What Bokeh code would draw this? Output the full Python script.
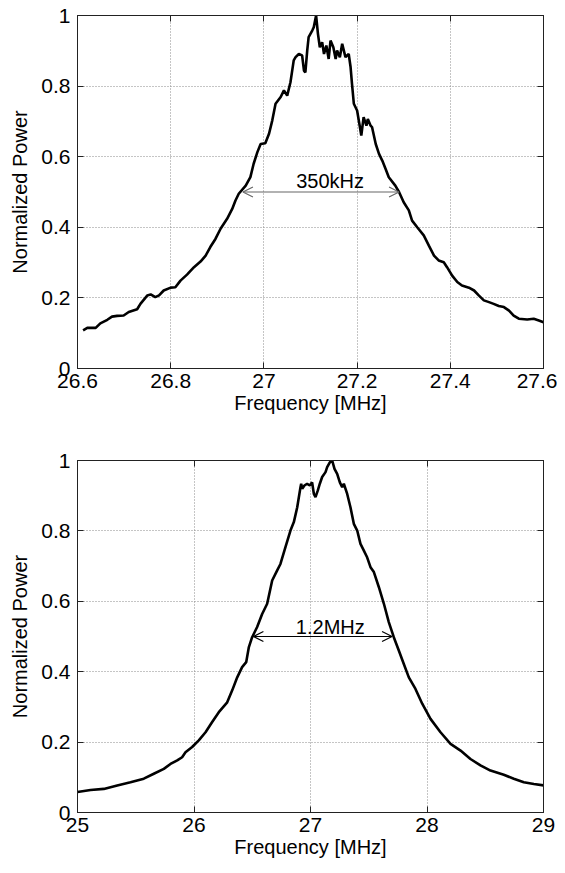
from bokeh.plotting import figure
from bokeh.layouts import column
from bokeh.models import FixedTicker, LinearAxis, Range1d, Arrow, OpenHead, Label
from bokeh.embed import file_html
from bokeh.resources import INLINE

# ---------------- data: top panel (narrow span) ----------------
freq_top = [26.612, 26.621, 26.639, 26.649, 26.664, 26.674, 26.685, 26.699, 26.710, 26.728,
            26.735, 26.750, 26.757, 26.767, 26.775, 26.785, 26.800, 26.810, 26.821, 26.835,
            26.850, 26.864, 26.875, 26.885, 26.896, 26.907, 26.921, 26.932, 26.939, 26.946,
            26.961, 26.971, 26.978, 26.986, 26.993, 27.003, 27.011, 27.018, 27.025, 27.036,
            27.043, 27.050, 27.057, 27.064, 27.068, 27.075, 27.082, 27.086, 27.089, 27.093,
            27.096, 27.104, 27.107, 27.112, 27.116, 27.120, 27.125, 27.129, 27.134, 27.139,
            27.143, 27.149, 27.154, 27.157, 27.163, 27.168, 27.175, 27.182, 27.186, 27.189,
            27.193, 27.200, 27.206, 27.209, 27.214, 27.220, 27.223, 27.229, 27.232, 27.240,
            27.247, 27.254, 27.261, 27.268, 27.282, 27.290, 27.300, 27.311, 27.318, 27.329,
            27.343, 27.354, 27.365, 27.375, 27.386, 27.393, 27.404, 27.415, 27.425, 27.440,
            27.451, 27.461, 27.472, 27.483, 27.493, 27.504, 27.515, 27.526, 27.536, 27.547,
            27.565, 27.579, 27.590, 27.600]
power_top = [0.108, 0.115, 0.115, 0.128, 0.138, 0.147, 0.149, 0.150, 0.160, 0.168,
             0.183, 0.207, 0.210, 0.202, 0.207, 0.221, 0.229, 0.230, 0.249, 0.266,
             0.287, 0.303, 0.320, 0.344, 0.367, 0.396, 0.424, 0.452, 0.476, 0.495,
             0.518, 0.542, 0.580, 0.613, 0.636, 0.638, 0.665, 0.703, 0.750, 0.769,
             0.788, 0.773, 0.811, 0.873, 0.882, 0.891, 0.887, 0.844, 0.839, 0.901,
             0.939, 0.958, 0.967, 1.000, 0.948, 0.910, 0.924, 0.891, 0.915, 0.877,
             0.929, 0.910, 0.877, 0.901, 0.882, 0.920, 0.882, 0.891, 0.854, 0.807,
             0.750, 0.731, 0.684, 0.660, 0.712, 0.688, 0.707, 0.688, 0.684, 0.636,
             0.608, 0.589, 0.566, 0.542, 0.518, 0.500, 0.471, 0.448, 0.419, 0.400,
             0.377, 0.348, 0.320, 0.306, 0.301, 0.287, 0.263, 0.245, 0.235, 0.229,
             0.221, 0.207, 0.193, 0.188, 0.183, 0.177, 0.174, 0.164, 0.150, 0.141,
             0.139, 0.141, 0.136, 0.131]

# ---------------- data: bottom panel (wide span) ----------------
freq_bot = [25.000, 25.112, 25.226, 25.341, 25.455, 25.569, 25.655, 25.741, 25.798, 25.856,
            25.898, 25.927, 25.984, 26.041, 26.099, 26.156, 26.213, 26.285, 26.328, 26.371,
            26.413, 26.448, 26.471, 26.499, 26.542, 26.585, 26.628, 26.671, 26.714, 26.742,
            26.785, 26.828, 26.857, 26.886, 26.914, 26.920, 26.929, 26.948, 26.971, 26.994,
            27.014, 27.029, 27.043, 27.063, 27.080, 27.100, 27.129, 27.143, 27.166, 27.186,
            27.206, 27.229, 27.252, 27.272, 27.286, 27.315, 27.343, 27.372, 27.401, 27.429,
            27.458, 27.486, 27.515, 27.544, 27.587, 27.630, 27.672, 27.715, 27.758, 27.801,
            27.844, 27.901, 27.959, 28.030, 28.116, 28.202, 28.288, 28.373, 28.459, 28.545,
            28.659, 28.745, 28.831, 28.917, 29.000]
power_bot = [0.058, 0.064, 0.067, 0.077, 0.086, 0.096, 0.110, 0.124, 0.138, 0.148,
             0.157, 0.171, 0.186, 0.205, 0.228, 0.257, 0.285, 0.313, 0.347, 0.384,
             0.413, 0.427, 0.470, 0.498, 0.527, 0.564, 0.593, 0.659, 0.688, 0.706,
             0.754, 0.801, 0.825, 0.867, 0.924, 0.934, 0.920, 0.929, 0.934, 0.929,
             0.938, 0.905, 0.896, 0.915, 0.934, 0.953, 0.967, 0.981, 0.995, 1.000,
             0.976, 0.962, 0.938, 0.924, 0.934, 0.905, 0.867, 0.820, 0.801, 0.763,
             0.744, 0.725, 0.697, 0.683, 0.640, 0.593, 0.541, 0.498, 0.460, 0.422,
             0.384, 0.351, 0.309, 0.266, 0.228, 0.195, 0.176, 0.152, 0.134, 0.119,
             0.107, 0.096, 0.086, 0.081, 0.077]

# ---------------- ticks & annotations ----------------
xticks_top = [26.6, 26.8, 27.0, 27.2, 27.4, 27.6]
xlabels_top = ["26.6", "26.8", "27", "27.2", "27.4", "27.6"]
xticks_bot = [25, 26, 27, 28, 29]
xlabels_bot = ["25", "26", "27", "28", "29"]
yticks = [0, 0.2, 0.4, 0.6, 0.8, 1.0]
ylabels = ["0", "0.2", "0.4", "0.6", "0.8", "1"]

half_max = 0.5
fwhm_top = [26.955, 27.290]
fwhm_bot = [26.510, 27.700]
width_text_top = "350kHz"
width_text_bot = "1.2MHz"
text_pos_top = [27.142, 0.53]
text_pos_bot = [27.17, 0.527]

FONT = "Liberation Sans"
TICK_FS = "21px"
LABEL_FS = "20px"


def style(p, xticks, xlabels):
    tick_x = FixedTicker(ticks=xticks)
    tick_y = FixedTicker(ticks=yticks)
    p.xaxis.ticker = tick_x
    p.yaxis.ticker = tick_y
    p.xaxis.major_label_overrides = {t: l for t, l in zip(xticks, xlabels)}
    p.yaxis.major_label_overrides = {t: l for t, l in zip(yticks, ylabels)}
    for ax in p.axis:
        ax.major_label_text_font = FONT
        ax.major_label_text_font_size = TICK_FS
        ax.major_label_text_color = "black"
        ax.axis_label_text_font = FONT
        ax.axis_label_text_font_size = LABEL_FS
        ax.axis_label_text_font_style = "normal"
        ax.axis_label_text_color = "black"
        ax.major_tick_in = 6
        ax.major_tick_out = 0
        ax.minor_tick_line_color = None
        ax.axis_line_color = "#222222"
        ax.major_tick_line_color = "#222222"
    p.xaxis.major_label_standoff = 5
    p.xaxis.axis_label_standoff = 1
    p.yaxis.major_label_standoff = 7
    p.yaxis.axis_label_standoff = 7
    p.xaxis.axis_label = "Frequency [MHz]"
    p.yaxis.axis_label = "Normalized Power"
    # box axes (right / top) with inward ticks and no labels
    for loc, tk in (("right", tick_y), ("above", tick_x)):
        ax = LinearAxis(ticker=tk, major_tick_in=6, major_tick_out=0,
                        minor_tick_line_color=None, major_label_text_font_size="0px",
                        major_label_standoff=0, axis_line_color="#222222",
                        major_tick_line_color="#222222")
        p.add_layout(ax, loc)
    p.xgrid.ticker = tick_x
    p.ygrid.ticker = tick_y
    p.grid.grid_line_color = "#8a8a8a"
    p.grid.grid_line_dash = "1 2"
    p.grid.grid_line_width = 1
    p.outline_line_color = "#222222"
    p.background_fill_color = "white"
    p.border_fill_color = "white"


p1 = figure(frame_width=466, frame_height=353, output_backend="svg", toolbar_location=None,
            x_range=Range1d(26.6, 27.6), y_range=Range1d(0, 1),
            min_border_left=77, min_border_right=14, min_border_top=15, min_border_bottom=77)
style(p1, xticks_top, xlabels_top)
p1.line(freq_top, power_top, line_color="black", line_width=2.6)
p1.add_layout(Arrow(start=OpenHead(size=10, line_color="#666666", line_width=1.2),
                    end=OpenHead(size=10, line_color="#666666", line_width=1.2),
                    x_start=fwhm_top[0], y_start=half_max, x_end=fwhm_top[1], y_end=half_max,
                    line_color="#666666", line_width=1.2))
p1.add_layout(Label(x=text_pos_top[0], y=text_pos_top[1], text=width_text_top,
                    text_align="center", text_baseline="alphabetic",
                    text_font=FONT, text_font_size="20px", text_color="black"))

p2 = figure(frame_width=466, frame_height=352, output_backend="svg", toolbar_location=None,
            x_range=Range1d(25, 29), y_range=Range1d(0, 1),
            min_border_left=77, min_border_right=14, min_border_top=15, min_border_bottom=53)
style(p2, xticks_bot, xlabels_bot)
p2.line(freq_bot, power_bot, line_color="black", line_width=2.6)
p2.add_layout(Arrow(start=OpenHead(size=10, line_color="black", line_width=1.2),
                    end=OpenHead(size=10, line_color="black", line_width=1.2),
                    x_start=fwhm_bot[0], y_start=half_max, x_end=fwhm_bot[1], y_end=half_max,
                    line_color="black", line_width=1.2))
p2.add_layout(Label(x=text_pos_bot[0], y=text_pos_bot[1], text=width_text_bot,
                    text_align="center", text_baseline="alphabetic",
                    text_font=FONT, text_font_size="20px", text_color="black"))

layout = column(p1, p2, spacing=0)
open("out.html", "w").write(file_html(layout, INLINE))
